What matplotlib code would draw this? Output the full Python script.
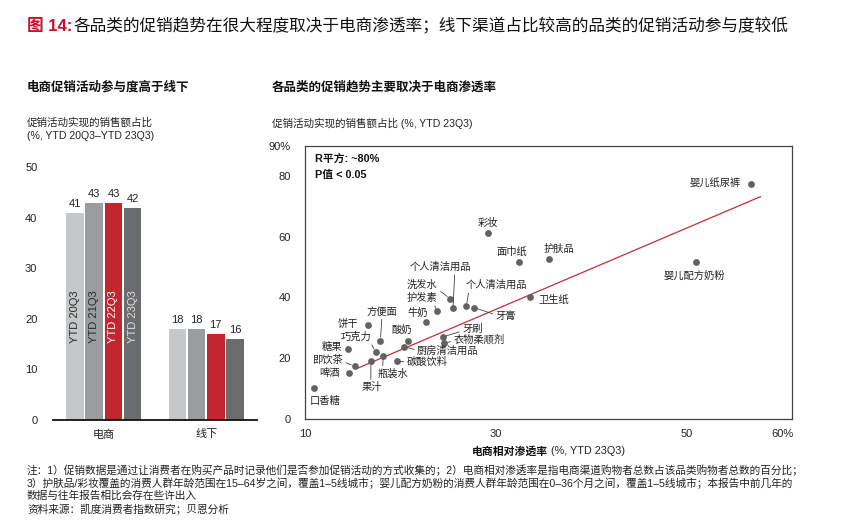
import matplotlib
matplotlib.use("Agg")
import matplotlib.pyplot as plt
import numpy as np

plt.rcParams['font.family'] = ['Liberation Sans', 'Noto Sans CJK SC', 'DejaVu Sans']
plt.rcParams['axes.unicode_minus'] = False

# ---------------- data ----------------
bar_groups = ['电商', '线下']
bar_periods = ['YTD 20Q3', 'YTD 21Q3', 'YTD 22Q3', 'YTD 23Q3']
ytd20q3 = [41, 18]
ytd21q3 = [43, 18]
ytd22q3 = [43, 17]
ytd23q3 = [42, 16]
bar_yticks = [0, 10, 20, 30, 40, 50]

categories = ['口香糖', '啤酒', '即饮茶', '糖果', '饼干', '巧克力', '果汁', '瓶装水', '方便面',
              '碳酸饮料', '厨房清洁用品', '酸奶', '牛奶', '护发素', '洗发水', '个人清洁用品',
              '个人清洁用品', '牙膏', '牙刷', '衣物柔顺剂', '彩妆', '面巾纸', '护肤品', '卫生纸',
              '婴儿配方奶粉', '婴儿纸尿裤']
ecom_pen = [10.9, 14.6, 15.2, 14.5, 16.6, 17.4, 16.9, 18.2, 17.9,
            19.6, 20.4, 20.8, 22.7, 23.8, 25.2, 25.5,
            26.9, 27.7, 24.4, 24.6, 29.2, 32.4, 35.6, 33.6,
            50.9, 56.7]
promo_share = [10.2, 15.0, 17.4, 22.9, 30.9, 22.0, 19.1, 20.9, 25.8,
               19.1, 23.8, 25.6, 31.8, 35.4, 39.6, 36.4,
               37.2, 36.7, 27.0, 24.9, 61.2, 51.7, 52.7, 40.1,
               51.8, 77.4]
trend_x = [15.5, 57.7]
trend_y = [16.7, 73.2]
sc_xticks = [10, 30, 50, 60]
sc_xticklabels = ['10', '30', '50', '60%']
sc_yticks = [0, 20, 40, 60, 80, 90]
sc_yticklabels = ['0', '20', '40', '60', '80', '90%']

# ---------------- layout / style ----------------
W, H = 845, 526
fig = plt.figure(figsize=(W / 100, H / 100), dpi=100)

def fx(px):
    return px / W

def fy(py):
    return 1 - py / H

TXT = '#222222'
RED = '#c8102e'

# Title
fig.text(fx(27), fy(26), '图 14:', color=RED, fontsize=12, fontweight='bold', va='center', ha='left')
fig.text(fx(74), fy(26), '各品类的促销趋势在很大程度取决于电商渗透率；线下渠道占比较高的品类的促销活动参与度较低',
         color='#111111', fontsize=12, va='center', ha='left')

# Left panel headings
fig.text(fx(27), fy(87), '电商促销活动参与度高于线下', fontsize=9, fontweight='bold', color='#111111', va='center')
fig.text(fx(27), fy(123), '促销活动实现的销售额占比', fontsize=7.6, color=TXT, va='center')
fig.text(fx(27), fy(136), '(%, YTD 20Q3–YTD 23Q3)', fontsize=7.6, color=TXT, va='center')

# Right panel headings
fig.text(fx(272), fy(87), '各品类的促销趋势主要取决于电商渗透率', fontsize=9, fontweight='bold', color='#111111', va='center')
fig.text(fx(272), fy(123), '促销活动实现的销售额占比 (%, YTD 23Q3)', fontsize=7.6, color=TXT, va='center')

# ---------------- bar chart ----------------
axb = fig.add_axes([fx(52.7), fy(419.7), fx(257.3) - fx(52.7), fy(167.3) - fy(419.7)])
bar_colors = ['#c6c7c9', '#9b9c9e', '#c3262f', '#6b6c6e']
inner_colors = ['#2a2a2a', '#2a2a2a', '#ffffff', '#e0e0e0']
series = [ytd20q3, ytd21q3, ytd22q3, ytd23q3]
step, width = 0.188, 0.172
xg = np.arange(len(bar_groups))
for i, (vals, c) in enumerate(zip(series, bar_colors)):
    xs = xg + (i - 1.5) * step
    axb.bar(xs, vals, width=width, color=c, zorder=2)
    for x, v in zip(xs, vals):
        axb.text(x, v + 0.7, f'{v}', ha='center', va='bottom', fontsize=8, color=TXT)
    axb.text(xs[0], 20.5, bar_periods[i], rotation=90, ha='center', va='center',
             fontsize=8, color=inner_colors[i], zorder=3)
axb.set_xlim(-0.5, 1.5)
axb.set_ylim(0, 50)
axb.set_yticks(bar_yticks)
axb.set_xticks(xg)
axb.set_xticklabels(bar_groups, fontsize=8)
axb.tick_params(axis='both', length=0, labelsize=8, colors=TXT)
axb.tick_params(axis='y', pad=11)
axb.tick_params(axis='x', pad=7)
for s in ['left', 'right', 'top']:
    axb.spines[s].set_visible(False)
axb.spines['bottom'].set_linewidth(1.3)
axb.spines['bottom'].set_color('#111111')

# ---------------- scatter ----------------
axs = fig.add_axes([fx(305), fy(419), fx(792) - fx(305), fy(145.6) - fy(419)])
axs.set_xlim(10, 61)
axs.set_ylim(0, 90)
axs.plot(trend_x, trend_y, color='#c0303a', lw=0.9, zorder=2)
axs.scatter(ecom_pen, promo_share, s=24, color='#616264', zorder=3, linewidths=0)
axs.set_xticks(sc_xticks)
axs.set_xticklabels(sc_xticklabels)
axs.set_yticks(sc_yticks)
axs.set_yticklabels(sc_yticklabels)
axs.tick_params(axis='both', length=0, labelsize=8, colors=TXT)
axs.tick_params(axis='y', pad=10)
axs.tick_params(axis='x', pad=7)
for s in axs.spines.values():
    s.set_color('#444444')
    s.set_linewidth(0.9)

axs.text(0.02, 0.952, 'R平方: ~80%', transform=axs.transAxes, fontsize=7.8, fontweight='bold', color='#111111', va='center')
axs.text(0.02, 0.893, 'P值 < 0.05', transform=axs.transAxes, fontsize=7.8, fontweight='bold', color='#111111', va='center')

# label positions (text center) and optional leader relpos
label_layout = [
    (12.1, 6.1, None), (12.6, 15.3, None), (12.4, 19.5, (1.0, 0.3)), (12.8, 23.7, None),
    (14.5, 31.0, None), (15.4, 27.0, (0.95, 0.0)), (17.0, 10.5, (0.45, 1.0)), (19.25, 15.0, (0.15, 1.0)),
    (18.06, 35.4, (0.5, 0.0)), (22.8, 18.7, (0.0, 0.5)), (24.94, 22.3, (0.0, 0.6)), (20.1, 29.3, None),
    (21.8, 35.1, None), (22.2, 39.8, (0.9, 0.0)), (22.3, 44.05, (1.0, 0.1)), (24.14, 50.0, (0.74, 0.0)),
    (30.07, 44.05, (0.05, 0.0)), (31.0, 34.0, (0.0, 0.6)), (27.52, 29.6, (0.0, 0.3)), (28.2, 26.1, (0.0, 0.4)),
    (29.2, 64.7, None), (31.7, 55.1, None), (36.6, 56.0, None), (36.07, 39.1, None),
    (50.77, 47.3, None), (52.93, 77.6, None),
]
for name, x, y, (tx, ty, rel) in zip(categories, ecom_pen, promo_share, label_layout):
    if rel is None:
        axs.annotate(name, xy=(x, y), xytext=(tx, ty), ha='center', va='center',
                     fontsize=7.4, color=TXT, zorder=4)
    else:
        axs.annotate(name, xy=(x, y), xytext=(tx, ty), ha='center', va='center',
                     fontsize=7.4, color=TXT, zorder=4,
                     arrowprops=dict(arrowstyle='-', color='#444444', lw=0.6,
                                     relpos=rel, shrinkA=0, shrinkB=2.5))

# x-axis label (bold part + normal part)
t1 = fig.text(fx(472), fy(451), '电商相对渗透率', fontsize=7.8, fontweight='bold', color='#111111', va='center', ha='left')
fig.canvas.draw()
bb = t1.get_window_extent()
fig.text(bb.x1 / W, fy(451), ' (%, YTD 23Q3)', fontsize=7.8, color=TXT, va='center', ha='left')

# Footnotes
notes = [
    '注：1）促销数据是通过让消费者在购买产品时记录他们是否参加促销活动的方式收集的；2）电商相对渗透率是指电商渠道购物者总数占该品类购物者总数的百分比；',
    '3）护肤品/彩妆覆盖的消费人群年龄范围在15–64岁之间，覆盖1–5线城市；婴儿配方奶粉的消费人群年龄范围在0–36个月之间，覆盖1–5线城市；本报告中前几年的',
    '数据与往年报告相比会存在些许出入',
    '资料来源：凯度消费者指数研究；贝恩分析',
]
for i, line in enumerate(notes):
    fig.text(fx(27), fy(470 + i * 13), line, fontsize=7.7, color=TXT, va='center', ha='left')

fig.savefig('out.png', dpi=100)
